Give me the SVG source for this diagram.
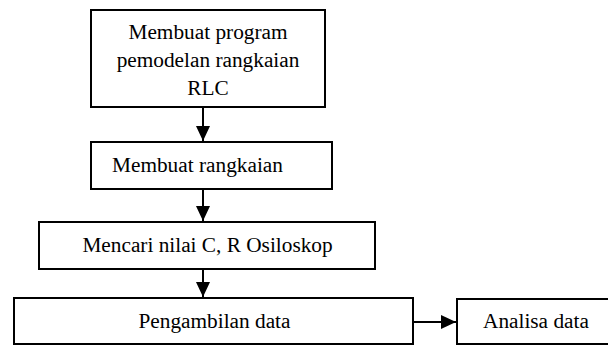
<svg xmlns="http://www.w3.org/2000/svg" width="608" height="345" viewBox="0 0 608 345">
<style>
.box{fill:#fff;stroke:#000;stroke-width:2}
.t{font-family:"Liberation Serif","Times New Roman",serif;font-size:21.3px;fill:#000}
.c{text-anchor:middle}
.edge{stroke:#000;stroke-width:2;fill:none}
</style>
<defs>
<marker id="ah" viewBox="0 0 15 14" refX="15" refY="7" markerWidth="15" markerHeight="14" markerUnits="userSpaceOnUse" orient="auto">
<path d="M0,0 L15,7 L0,14 Z" fill="#000"/>
</marker>
</defs>
<rect width="608" height="345" fill="#fff"/>
<g id="connectors">
<line class="edge" x1="203" y1="107" x2="203" y2="141" marker-end="url(#ah)"/>
<line class="edge" x1="203" y1="189" x2="203" y2="221" marker-end="url(#ah)"/>
<line class="edge" x1="203" y1="269" x2="203" y2="297" marker-end="url(#ah)"/>
<line class="edge" x1="413" y1="322" x2="456" y2="322" marker-end="url(#ah)"/>
</g>
<g id="node1">
<rect class="box" x="91" y="10" width="234" height="97"/>
<text class="t c" x="208" y="39">Membuat program</text>
<text class="t c" x="208" y="67">pemodelan rangkaian</text>
<text class="t c" x="208" y="95">RLC</text>
</g>
<g id="node2">
<rect class="box" x="91" y="142" width="241" height="47"/>
<text class="t" x="112" y="172">Membuat rangkaian</text>
</g>
<g id="node3">
<rect class="box" x="39" y="222" width="336" height="47"/>
<text class="t c" x="207.5" y="252">Mencari nilai C, R Osiloskop</text>
</g>
<g id="node4">
<rect class="box" x="14" y="298" width="399" height="46"/>
<text class="t c" x="214.5" y="328">Pengambilan data</text>
</g>
<g id="node5">
<rect class="box" x="457" y="299" width="170" height="45"/>
<text class="t" x="483" y="328">Analisa data</text>
</g>
</svg>
